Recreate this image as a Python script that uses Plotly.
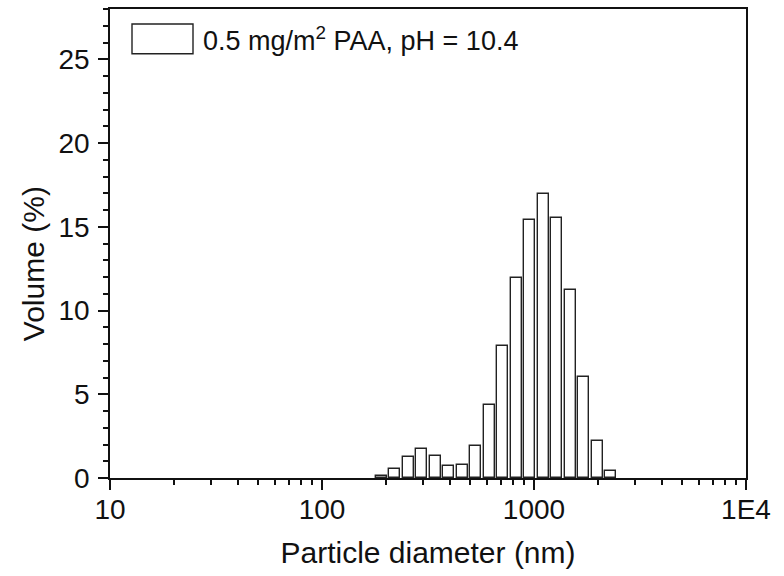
import numpy as np
import plotly.graph_objects as go

# Data (Zetasizer size classes, nm) and volume %
diameter_nm = [190.1, 220.2, 255.0, 295.3, 342.0, 396.1, 458.7, 531.2, 615.1,
               712.4, 825.0, 955.4, 1106.0, 1281.0, 1484.0, 1718.0, 1990.0, 2305.0]
volume_pct = [0.12, 0.52, 1.25, 1.71, 1.31, 0.72, 0.80, 1.89, 4.33,
              7.86, 11.93, 15.40, 16.93, 15.52, 11.23, 6.02, 2.18, 0.40]

x_tick_vals = [10, 100, 1000, 10000]
x_tick_text = ["10", "100", "1000", "1E4"]
legend_label = "0.5 mg/m<sup>2</sup> PAA, pH = 10.4"
x_title = "Particle diameter (nm)"
y_title = "Volume (%)"

FONT = "Liberation Sans, Arial, sans-serif"
INK = "#111111"

x_log = np.log10(diameter_nm)
minor_vals = [np.log10(m * d) for d in (10, 100, 1000) for m in range(2, 10)]

fig = go.Figure()
fig.add_trace(go.Bar(
    x=x_log, y=volume_pct, width=0.052,
    marker=dict(color="white", line=dict(color="#222222", width=1.4)),
    name=legend_label, showlegend=False,
))

fig.update_layout(
    width=784, height=576,
    margin=dict(l=110, r=38, t=7, b=98),
    paper_bgcolor="white", plot_bgcolor="white",
    font=dict(family=FONT, size=28, color=INK),
    xaxis=dict(
        range=[1, 4], tickmode="array",
        tickvals=np.log10(x_tick_vals), ticktext=x_tick_text,
        ticks="outside", ticklen=10, tickwidth=1.5, tickcolor=INK,
        showline=True, linecolor=INK, linewidth=1.5, mirror=True,
        showgrid=False, zeroline=False,
        minor=dict(tickvals=minor_vals, ticks="outside", ticklen=5,
                   tickwidth=1.5, tickcolor=INK, showgrid=False),
        title=dict(text=x_title, font=dict(size=30), standoff=18),
        tickfont=dict(size=28),
        ticklabelstandoff=-4,
    ),
    yaxis=dict(
        range=[0, 28], dtick=5, tick0=0,
        ticks="outside", ticklen=10, tickwidth=1.5, tickcolor=INK,
        showline=True, linecolor=INK, linewidth=1.5, mirror=True,
        showgrid=False, zeroline=False,
        minor=dict(dtick=1, ticks="outside", ticklen=5, tickwidth=1.5,
                   tickcolor=INK, showgrid=False),
        tickfont=dict(size=28),
        ticklabelstandoff=3,
    ),
    bargap=0,
)

# y-axis title positioned as in the reference
fig.add_annotation(text=y_title, textangle=-90, xref="paper", yref="paper",
                   x=-0.121, y=0.456, showarrow=False, font=dict(size=30),
                   xanchor="center", yanchor="middle")

# legend: large rectangle swatch + label
fig.add_shape(type="rect", xref="paper", yref="paper",
              x0=(132 - 110) / 636, x1=(193 - 110) / 636,
              y0=(478 - 52) / 471, y1=(478 - 22) / 471,
              line=dict(color="#222222", width=1.4), fillcolor="white")
fig.add_annotation(text=legend_label, xref="paper", yref="paper",
                   x=(201 - 110) / 636, y=(478 - 37) / 471,
                   xanchor="left", yanchor="middle", showarrow=False,
                   font=dict(size=27))

fig.write_html("out.html")
